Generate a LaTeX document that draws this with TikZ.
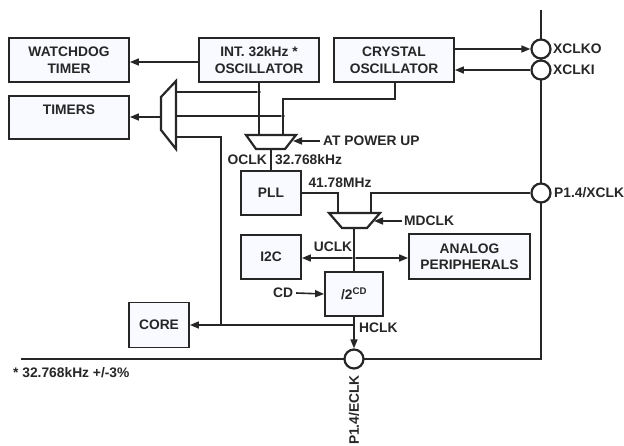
\documentclass[tikz,border=0pt]{standalone}
\usepackage{fontspec}
\setmainfont{Liberation Sans}
\usetikzlibrary{arrows.meta,calc}
\definecolor{boxfill}{RGB}{248,250,255}
\definecolor{ink}{RGB}{38,38,38}
\begin{document}
\begin{tikzpicture}[x=1pt,y=-1pt,
  every node/.style={font=\fontsize{13.8}{16.5}\selectfont\bfseries, text=ink},
  blk/.style={draw=ink, line width=1.8pt, fill=boxfill, align=center, inner sep=0pt},
  wire/.style={draw=ink, line width=1.6pt},
  arr/.style={wire, -{Triangle[length=9pt,width=7pt]}},
  bus/.style={draw=ink, line width=2.6pt},
  pin/.style={circle, draw=ink, line width=2.2pt, fill=white, minimum size=19pt, inner sep=0pt},
  mux/.style={draw=ink, line width=2.2pt, fill=white, line join=miter},
  dot/.style={circle, fill=ink, minimum size=3.8pt, inner sep=0pt},
  lbl/.style={inner sep=0pt}]
\useasboundingbox (0,0) rectangle (624,445);

% blocks
\node[blk, minimum width=120pt, minimum height=44pt] (wd) at (69,60) {WATCHDOG\\TIMER};
\node[blk, minimum width=120pt, minimum height=44pt] (intosc) at (259,60) {INT. 32kHz *\\OSCILLATOR};
\node[blk, minimum width=120pt, minimum height=44pt] (xtal) at (394,60) {CRYSTAL\\OSCILLATOR};
\node[blk, minimum width=120pt, minimum height=43pt] (timers) at (69,117.5) {};
\node[lbl] (timerslbl) at (69,110) {TIMERS};
\node[blk, minimum width=60pt, minimum height=44pt] (pll) at (271,193) {PLL};
\node[blk, minimum width=60pt, minimum height=44pt] (i2c) at (271,257) {I2C};
\node[blk, minimum width=121pt, minimum height=45pt] (analog) at (469.5,256.5) {ANALOG\\PERIPHERALS};
\node[blk, minimum width=58pt, minimum height=44pt] (div) at (354,294) {/2\textsuperscript{CD}};
\node[blk, minimum width=60pt, minimum height=45pt] (core) at (159,325) {CORE};

% muxes
\draw[mux] (161,97) -- (176,81) -- (176,149) -- (161,130) -- cycle;
\coordinate (lmout) at (161,117);
\coordinate (lmi1) at (176,92);
\coordinate (lmi2) at (176,116);
\coordinate (lmi3) at (176,137);

\draw[mux] (246,135) -- (296,135) -- (285,149) -- (256,149) -- cycle;
\coordinate (pu1) at (259,135);
\coordinate (pu2) at (283,135);
\coordinate (puo) at (271,149);
\coordinate (pwr) at (320,141);
\coordinate (pwrtip) at (293,141);

\draw[mux] (329,213) -- (380,213) -- (367,228) -- (342,228) -- cycle;
\coordinate (mdi1) at (338,213);
\coordinate (mdi2) at (371,213);
\coordinate (mdo) at (354,228);
\coordinate (mdc) at (402,221);
\coordinate (mdctip) at (374,221);

% bus
\coordinate (bt) at (541,10);
\coordinate (bc) at (541,359);
\coordinate (bl) at (21,359);
\draw[bus] (bt) -- (bc) -- (bl);

% pins
\node[pin] (xclko) at (541,49) {};
\node[pin] (xclki) at (541,70) {};
\node[pin] (xclk) at (541,193) {};
\node[pin] (eclk) at (354,359) {};

% pin labels
\node[lbl, anchor=west] (xclkol) at (553,49) {XCLKO};
\node[lbl, anchor=west] (xclkil) at (553,70) {XCLKI};
\node[lbl, anchor=west] (xclkl) at (554,193) {P1.4/XCLK};
\node[lbl, rotate=90, anchor=east] (eclkl) at (354,375) {P1.4/ECLK};

% connectors: oscillators
\draw[arr] ($(intosc.west)+(0,2)$) -- ($(wd.east)+(0,2)$);
\draw[wire] (intosc.south) -- (pu1);
\node[dot] (d1) at (259,92) {};
\draw[wire] (lmi1) -- (d1);
\draw[wire] ($(xtal.south)+(1,0)$) -- ++(0,16) -| (pu2);
\node[dot] (d2) at (283,116) {};
\draw[wire] (lmi2) -- (d2);
\draw[arr] (lmout) -- (lmout -| timers.east);
\draw[arr] ($(xtal.east)+(0,-11)$) -- (xclko.west);
\draw[arr] (xclki.west) -- ($(xtal.east)+(0,10)$);

% power-up mux
\draw[arr] (pwr) -- (pwrtip);
\node[lbl, anchor=west] (pwrl) at (323,141) {AT POWER UP};
\draw[wire] (puo) -- (pll.north);
\node[lbl, anchor=east] (oclk) at (267,160) {OCLK};
\node[lbl, anchor=west] (f32) at (275,160) {32.768kHz};

% PLL / MDCLK mux
\draw[wire] (pll.east) -| (mdi1);
\draw[wire] (xclk.west) -| (mdi2);
\node[lbl] (f41) at (340,183) {41.78MHz};
\draw[arr] (mdc) -- (mdctip);
\node[lbl, anchor=west] (mdcl) at (404,221) {MDCLK};

% UCLK
\node[dot] (uj) at (354,258) {};
\draw[wire] (mdo) -- (div.north);
\draw[arr] (uj) -- (uj -| i2c.east);
\draw[arr] (uj) -- (uj -| analog.west);
\node[lbl] (uclk) at (333,247) {UCLK};

% CD and HCLK
\node[lbl] (cd) at (283,293) {CD};
\draw[arr] ($(cd.east)+(3,0)$) -- (div.west);
\draw[arr] (div.south) -- (eclk.north);
\node[lbl, anchor=west] (hclk) at (359,328) {HCLK};
\coordinate (hj) at (354,325);
\coordinate (cj) at (221,325);
\draw[arr] (hj) -- (core.east);
\draw[wire] (lmi3) -| (cj);

% footnote
\node[lbl, anchor=west] (note) at (13,373) {* 32.768kHz +/-3\%};
\end{tikzpicture}
\end{document}
